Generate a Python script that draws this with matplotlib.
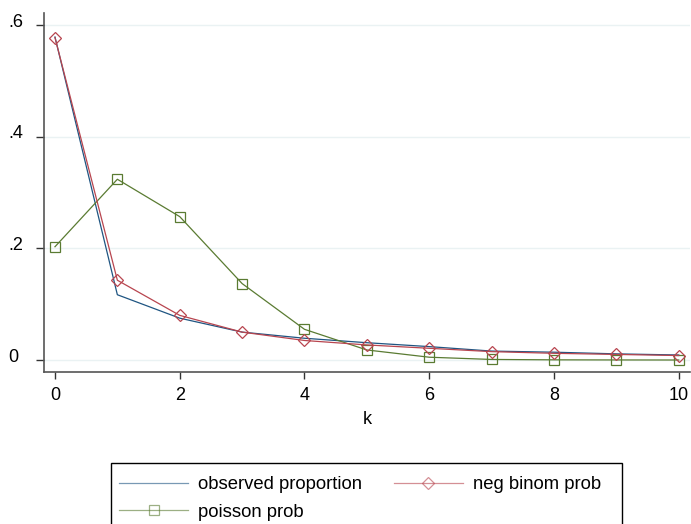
import matplotlib
matplotlib.use("Agg")
import matplotlib.pyplot as plt
import matplotlib.transforms as mtransforms
from matplotlib.patches import Rectangle

k = [0, 1, 2, 3, 4, 5, 6, 7, 8, 9, 10]
observed = [0.579, 0.117, 0.075, 0.050, 0.039, 0.031, 0.024, 0.016, 0.014, 0.011, 0.009]
negbin = [0.578, 0.143, 0.080, 0.050, 0.035, 0.027, 0.021, 0.015, 0.012, 0.010, 0.008]
poisson = [0.203, 0.324, 0.257, 0.137, 0.055, 0.018, 0.005, 0.001, 0.0003, 0.0001, 0.0]

yticks = [0, 0.2, 0.4, 0.6]
ytick_labels = ["0", ".2", ".4", ".6"]
xticks = [0, 2, 4, 6, 8, 10]
xtick_labels = ["0", "2", "4", "6", "8", "10"]

plt.rcParams['font.family'] = ['Liberation Sans', 'DejaVu Sans']

W, H = 691, 524
fig = plt.figure(figsize=(W / 100, H / 100), dpi=100)
left, right, top, bottom = 44, 690, 13, 372
ax = fig.add_axes([left / W, 1 - bottom / H, (right - left) / W, (bottom - top) / H])

blue = "#1f5582"
red = "#b8454f"
green = "#5a7b32"

l_obs, = ax.plot(k, observed, color=blue, lw=0.9, label="observed proportion", zorder=3)
l_nb, = ax.plot(k, negbin, color=red, lw=0.9, marker="D", markersize=6.3, markerfacecolor="none",
                markeredgecolor=red, markeredgewidth=0.9, label="neg binom prob", zorder=4)
l_po, = ax.plot(k, poisson, color=green, lw=0.9, marker="s", markersize=6.5, markerfacecolor="none",
                markeredgecolor=green, markeredgewidth=0.9, label="poisson prob", zorder=3)

ax.set_xlim(-0.176, 10.18)
ax.set_ylim(-0.0215, 0.622)

ax.set_yticks(yticks)
ax.set_yticklabels(ytick_labels)
ax.set_xticks(xticks)
ax.set_xticklabels(xtick_labels)

for y in yticks:
    ax.axhline(y, color="#eaf2f3", lw=1.0, zorder=1)

for s in ["top", "right"]:
    ax.spines[s].set_visible(False)
for s in ["left", "bottom"]:
    ax.spines[s].set_color("#555555")
    ax.spines[s].set_linewidth(1.2)

ax.tick_params(axis="y", length=6, width=1, color="#333333", labelsize=13, pad=19.4)
ax.tick_params(axis="x", length=5, width=1, color="#333333", labelsize=13, pad=6)
offset = mtransforms.ScaledTranslation(0, -1.5 / 100, fig.dpi_scale_trans)
for lab in ax.get_yticklabels():
    lab.set_horizontalalignment("left")
    lab.set_verticalalignment("baseline")
    lab.set_transform(lab.get_transform() + offset)

ax.set_xlabel("k", fontsize=13, labelpad=5)

# legend frame drawn manually (box extends past bottom edge as in reference)
fig.patches.append(Rectangle((111 / W, -0.01), (622 - 111) / W, (1 - 463 / H) + 0.01,
                             transform=fig.transFigure, facecolor="white", edgecolor="black",
                             lw=1.0, zorder=0))

leg = fig.legend([l_obs, l_po, l_nb], ["observed proportion", "poisson prob", "neg binom prob"],
                 ncol=2, loc="upper left", bbox_to_anchor=(112 / W, 1 - 469 / H),
                 borderaxespad=0, fontsize=13.3, frameon=False,
                 handlelength=3.7, handletextpad=0.55, labelspacing=0.55,
                 borderpad=0.4, columnspacing=1.75)
for lh in leg.get_lines():
    lh.set_alpha(0.6)

fig.savefig("out.png", dpi=100, facecolor="white")
